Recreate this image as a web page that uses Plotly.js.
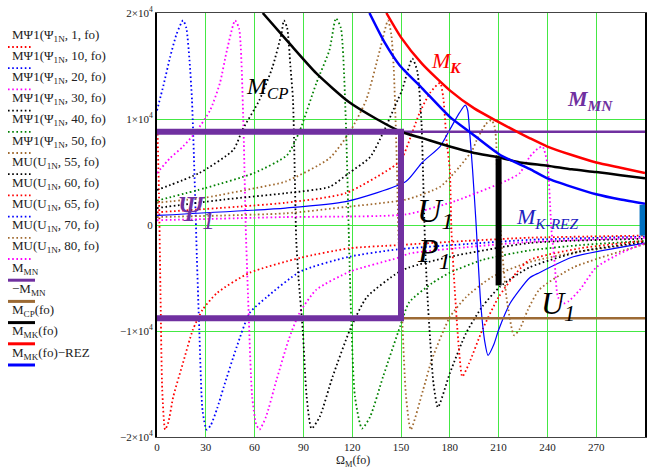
<!DOCTYPE html>
<html><head><meta charset="utf-8">
<script src="https://cdn.plot.ly/plotly-3.0.1.min.js"></script>
<style>html,body{margin:0;padding:0;background:#fff}#chart{width:652px;height:468px}</style>
</head><body><div id="chart"></div>
<script>
// ---- data ----
const xTicks = [0,30,60,90,120,150,180,210,240,270,300];
const yTicks = [-20000,-10000,0,10000,20000];
const yTickText = ["−2×10<sup>4</sup>","−1×10<sup>4</sup>","0","1×10<sup>4</sup>","2×10<sup>4</sup>"];

const psi1_x = [0.3,1.2,2.2,3.2,5,7,10,16,22,28,37,57,88,118,148,190,229,300];
const psi1_y = [9000,3000,-7000,-15500,-19300,-18600,-16200,-13000,-9900,-8000,-6400,-4500,-3100,-2200,-1900,-1500,-1200,-1000];

const psi10_x = [0,4,8,12,16,18,20,21.5,23.5,24.5,26,28,30.5,33,37,41,49,57,67.5,88,118,148,190,229,300];
const psi10_y = [10800,13200,15800,18000,19300,18600,15500,11800,2400,-3000,-9900,-17500,-19300,-18900,-17300,-15300,-11500,-8300,-6800,-4400,-3000,-2300,-1800,-1400,-1100];

const psi20_x = [0,8,16,24,32.6,38.7,43,48,50.5,53,54.5,56,58.5,61,63,67,73.5,81,87.6,98,118.6,148,155,190,229,300];
const psi20_y = [4900,6300,7400,8800,10800,13400,16500,19300,18500,10200,0,-6800,-16200,-18800,-19300,-18100,-14600,-10800,-8300,-6100,-4400,-3100,-2700,-2100,-1600,-1200];

const psi30_x = [0,26,47,52.6,63,71,76.6,78,80,82,83.6,85.6,87,89.6,92,95,100,108,118.6,129,148,155,180,229,300];
const psi30_y = [3300,4900,7100,9000,11800,14900,18100,19300,18600,15000,11800,-1400,-5000,-9900,-16200,-19200,-18100,-14300,-9900,-6800,-4500,-4000,-3000,-1700,-1300];

const psi40_x = [0,30,59.6,80,87.5,98,106,110,113,116,118,119.6,121.7,126,131,139,149.6,155,169,180,200,229,260,300];
const psi40_y = [2300,3500,4900,6600,8800,13400,16500,19500,18600,10200,-1400,-9900,-16200,-19200,-18100,-14300,-9500,-7300,-5500,-4500,-3300,-2400,-1900,-1500];

const psi50_x = [0,30,61,79,106,118.6,128.6,137,142,144,145.5,147.5,148.5,150.5,153,156,163.5,169,180,190,206,229,260,300];
const psi50_y = [2100,2600,3500,4100,6300,8800,11800,16500,19300,18000,14900,5500,-1400,-8000,-16000,-19300,-15600,-12700,-8700,-6800,-4900,-3500,-2500,-1700];

const mu55_x = [0,41,79,106,118,131,139,148,150.6,157,160,162.6,163.5,164.7,166,168,170,172.7,180,190,200,211,229,260,300];
const mu55_y = [1600,2400,3000,3600,4900,6400,8700,11800,12700,15700,14500,9600,5200,-1400,-6000,-11000,-15000,-17200,-14000,-10200,-7700,-5800,-4000,-2500,-1600];

const mu60_x = [0,79,116,147,151,161.5,168,174,176,178,180,181,183,185.5,187.7,192,200,210,221,229,260,300];
const mu60_y = [1200,2100,3000,5700,6400,10600,12500,13400,12000,8000,5200,-500,-6000,-11500,-14300,-13000,-9900,-6800,-4500,-3300,-2200,-1500];

const mu65_x = [0,79,116,153,163,174,180,186,189.5,191,192,194,196,199,201.5,203.5,207,210,217,229,235,256,300];
const mu65_y = [900,1600,2200,4100,5900,7400,9000,10600,11300,10800,9200,5200,500,-7400,-11000,-12300,-11300,-9900,-7400,-5000,-4500,-3000,-1700];

const mu70_x = [0,79,116,153,174,186,194,196.5,202,205.6,207.5,208.5,209,211,212.5,215,219.5,223,228,235,256,300];
const mu70_y = [750,1100,1700,2400,3600,5500,7100,8000,9500,9900,9300,8000,5200,0,-3000,-7000,-10400,-9800,-8000,-6100,-4000,-1800];

const mu80_x = [0,79,153,184,215,223,229,234,237,240,242.5,244.5,246.5,250,253,260,270,284.5,300];
const mu80_y = [450,750,1000,2300,4200,4900,6400,7200,7400,5800,-500,-3600,-6800,-7400,-7200,-6100,-4000,-2700,-1700];

const mmn_x = [0,300];
const mmn_y = [8800,8800];
const negmmn_y = [-8800,-8800];

const mcp_x = [65,81,98,118,135,150,163,180,195,210,223,240,255,270,285,300];
const mcp_y = [20000,17200,14300,11600,10000,8800,8200,7400,6800,6400,5900,5600,5250,5000,4700,4400];

const mk_x = [141,150,163,180,195,209,220,229,240,255,270,285,300];
const mk_y = [20000,17700,15200,12700,11000,9800,8900,8200,7400,6600,5900,5400,4900];

const mkrez_x = [130.6,140,149,163,180,192,211,229,240,255,270,285,300];
const mkrez_y = [20000,17200,15100,12900,10200,8800,6600,5300,4400,3600,2900,2400,2000];

const rect_x = [0,150,150,0];
const rect_y = [8800,8800,-8800,-8800];
const barBlack_x = [210,210];
const barBlack_y = [6300,-5700];
const barBlue_x = [298.5,298.5];
const barBlue_y = [1900,-1000];

const legendLabels = [
  "MΨ1(Ψ<sub>1N</sub>, 1, fo)","MΨ1(Ψ<sub>1N</sub>, 10, fo)","MΨ1(Ψ<sub>1N</sub>, 20, fo)",
  "MΨ1(Ψ<sub>1N</sub>, 30, fo)","MΨ1(Ψ<sub>1N</sub>, 40, fo)","MΨ1(Ψ<sub>1N</sub>, 50, fo)",
  "MU(U<sub>1N</sub>, 55, fo)","MU(U<sub>1N</sub>, 60, fo)","MU(U<sub>1N</sub>, 65, fo)",
  "MU(U<sub>1N</sub>, 70, fo)","MU(U<sub>1N</sub>, 80, fo)",
  "M<sub>MN</sub>","−M<sub>MN</sub>","M<sub>CP</sub>(fo)","M<sub>MK</sub>(fo)","M<sub>MK</sub>(fo)−REZ"
];

// ---- styles ----
const C = {red:"#ff0000", blue:"#0000ff", mag:"#ff00ff", blk:"#000000", grn:"#008000",
           brn:"#a06a30", purple:"#7030a0", brnLine:"#9c6a34", steel:"#0070c0"};
const legendStyle = [
  [C.red,"dot"],[C.blue,"dot"],[C.mag,"dot"],[C.blk,"dot"],[C.grn,"dot"],[C.brn,"dot"],
  [C.blk,"dot"],[C.red,"dot"],[C.blue,"dot"],[C.brn,"dot"],[C.mag,"dot"],
  [C.purple,"solid"],[C.brnLine,"solid"],[C.blk,"solid"],[C.red,"solid"],[C.blue,"solid"]
];
const DOT = "1.6px,2.6px";

function dotted(x,y,color){
  return {x:x,y:y,type:"scatter",mode:"lines",hoverinfo:"skip",showlegend:false,
          line:{color:color,width:1.8,dash:DOT,shape:"spline",smoothing:0.6}};
}
function solid(x,y,color,w,smooth){
  const ln = {color:color,width:w};
  if(smooth){ln.shape="spline";ln.smoothing=0.6;}
  return {x:x,y:y,type:"scatter",mode:"lines",hoverinfo:"skip",showlegend:false,line:ln};
}

const traces = [
  dotted(psi1_x,psi1_y,C.red),
  dotted(psi10_x,psi10_y,C.blue),
  dotted(psi20_x,psi20_y,C.mag),
  dotted(psi30_x,psi30_y,C.blk),
  dotted(psi40_x,psi40_y,C.grn),
  dotted(psi50_x,psi50_y,C.brn),
  dotted(mu55_x,mu55_y,C.blk),
  dotted(mu60_x,mu60_y,C.red),
  solid(mu65_x,mu65_y,C.blue,1.2,true),
  dotted(mu70_x,mu70_y,C.brn),
  dotted(mu80_x,mu80_y,C.mag),
  solid(mmn_x,mmn_y,C.purple,2.5),
  solid(mmn_x,negmmn_y,C.brnLine,2.5),
  solid(mcp_x,mcp_y,C.blk,2.5,true),
  solid(mk_x,mk_y,C.red,2.5,true),
  solid(mkrez_x,mkrez_y,C.blue,2.5,true),
  solid(rect_x,rect_y,C.purple,6),
  solid(barBlack_x,barBlack_y,C.blk,6),
  solid(barBlue_x,barBlue_y,C.steel,6)
];

// pixel -> paper helpers for the side legend
const L=157, T=13, W=488, H=424;
const px2x = p => (p-L)/W;
const py2y = p => (T+H-p)/H;

const annotations = [];
const shapes = [];
legendLabels.forEach((lab,i)=>{
  const yt = 35 + 21.2*i;
  annotations.push({xref:"paper",yref:"paper",x:px2x(10),y:py2y(yt),xanchor:"left",yanchor:"middle",
    text:lab,showarrow:false,font:{family:"Liberation Serif",size:13,color:"#222"}});
  const st = legendStyle[i];
  shapes.push({type:"line",xref:"paper",yref:"paper",x0:px2x(8),x1:px2x(st[1]==="dot"?33:35),
    y0:py2y(yt+12),y1:py2y(yt+12),line:{color:st[0],width:st[1]==="dot"?1.8:3,dash:st[1]==="dot"?DOT:"solid"}});
});

const serif = "Liberation Serif";
function lab(x,y,text,size,color){
  annotations.push({xref:"x",yref:"y",x:x,y:y,text:text,showarrow:false,xanchor:"center",yanchor:"middle",
    font:{family:serif,size:size,color:color}});
}
lab(67.6,12900,"<i>M<sub>CP</sub></i>",24,"#000");
lab(178,15400,"<i>M<sub><b>K</b></sub></i>",22,"#ff0000");
lab(266,11800,"<b><i>M<sub>MN</sub></i></b>",22,C.purple);
lab(24,1300,"<i>Ψ<sub>1</sub></i>",36,C.purple);
lab(171,1100,"<i>U<sub>1</sub></i>",34,"#000");
lab(170,-2600,"<i>P<sub>1</sub></i>",34,"#000");
lab(240,660,"<i>M<sub>K-REZ</sub></i>",22,"#2020c0");
lab(246.5,-7600,"<i>U<sub>1</sub></i>",32,"#000");
annotations.push({xref:"paper",yref:"paper",x:px2x(353),y:py2y(461),xanchor:"center",yanchor:"middle",
  text:"Ω<sub>M</sub>(fo)",showarrow:false,font:{family:serif,size:12,color:"#222"}});

const grid = "#44e844";
const layout = {
  width:652,height:468,margin:{l:L,r:652-L-W,t:T,b:468-T-H},
  paper_bgcolor:"#fff",plot_bgcolor:"#fff",
  font:{family:serif,size:11,color:"#222"},
  showlegend:false,
  xaxis:{range:[0,300],tickvals:xTicks,ticktext:xTicks.map(String),showgrid:true,gridcolor:grid,gridwidth:1,
         zeroline:false,showline:true,linecolor:"#444",linewidth:1,mirror:true,ticks:"",
         tickfont:{family:serif,size:11,color:"#222"}},
  yaxis:{range:[-20000,20000],tickvals:yTicks,ticktext:yTickText,showgrid:true,gridcolor:grid,gridwidth:1,
         zeroline:false,showline:true,linecolor:"#000",linewidth:2,mirror:true,ticks:"",
         tickfont:{family:serif,size:11,color:"#222"}},
  annotations:annotations,shapes:shapes
};
Plotly.newPlot("chart",traces,layout,{staticPlot:true,displayModeBar:false});
</script></body></html>
